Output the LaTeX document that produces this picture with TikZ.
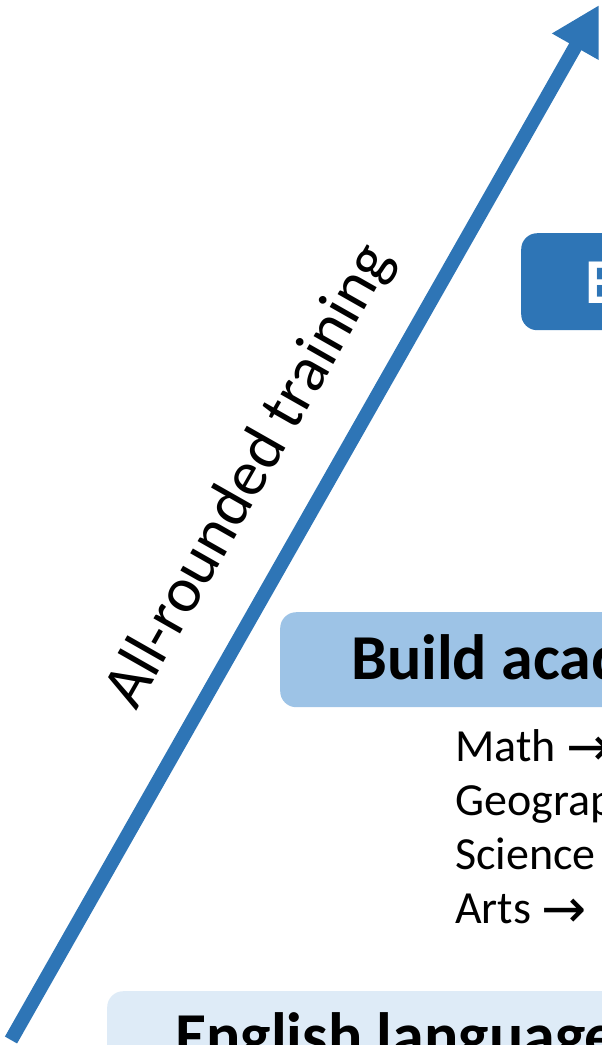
\documentclass[tikz,border=0pt]{standalone}
\usepackage{fontspec}
\setmainfont{Carlito}
\newfontfamily\arrowfont{DejaVu Sans}
\usetikzlibrary{arrows.meta}
\definecolor{dblue}{HTML}{2E75B6}
\definecolor{mblue}{HTML}{9DC3E6}
\definecolor{lblue}{HTML}{DEEBF7}
\newcommand{\rarr}{\raisebox{-4pt}{\fontsize{54}{60}\selectfont\arrowfont →}}
\begin{document}
\begin{tikzpicture}[x=1pt,y=-1pt,
  panel/.style={rounded corners=16pt, inner sep=0pt, anchor=north west, draw=none},
  title/.style={font=\fontsize{64}{76}\selectfont\bfseries, inner sep=0pt, anchor=base west},
  item/.style={font=\fontsize{46}{55}\selectfont, inner sep=0pt, anchor=base west},
  rising/.style={draw=dblue, line width=14pt, -{Triangle[length=48pt,width=50pt]}}
]
\useasboundingbox (0,0) rectangle (602,1045);
\clip (0,0) rectangle (602,1045);
% panels
\node[panel, fill=dblue, minimum width=200pt, minimum height=97pt] (toppanel) at (521,233) {};
\node[panel, fill=mblue, minimum width=400pt, minimum height=95pt] (midpanel) at (280,612) {};
\node[panel, fill=lblue, minimum width=600pt, minimum height=120pt] (lowpanel) at (107,991) {};
% titles
\node[title, text=white] (toptext) at (585,303) {B};
\node[title] (midtext) at (351,679) {Build acad};
\node[title] (lowtext) at (175,1057) {English language};
% list
\node[item] (math) at (455,761) {Math \rarr};
\node[item] (geo) at (455,815) {Geography};
\node[item] (sci) at (455,869) {Science};
\node[item] (arts) at (455,923) {Arts \rarr};
% rising arrow
\coordinate (s) at (11,1040);
\coordinate (e) at (599,5);
\draw[rising] (s) -- (e);
\node[font=\fontsize{64}{76}\selectfont, rotate=60.4, anchor=base west, inner sep=0pt] (lbl) at (136,712) {All-rounded training};
\end{tikzpicture}
\end{document}
